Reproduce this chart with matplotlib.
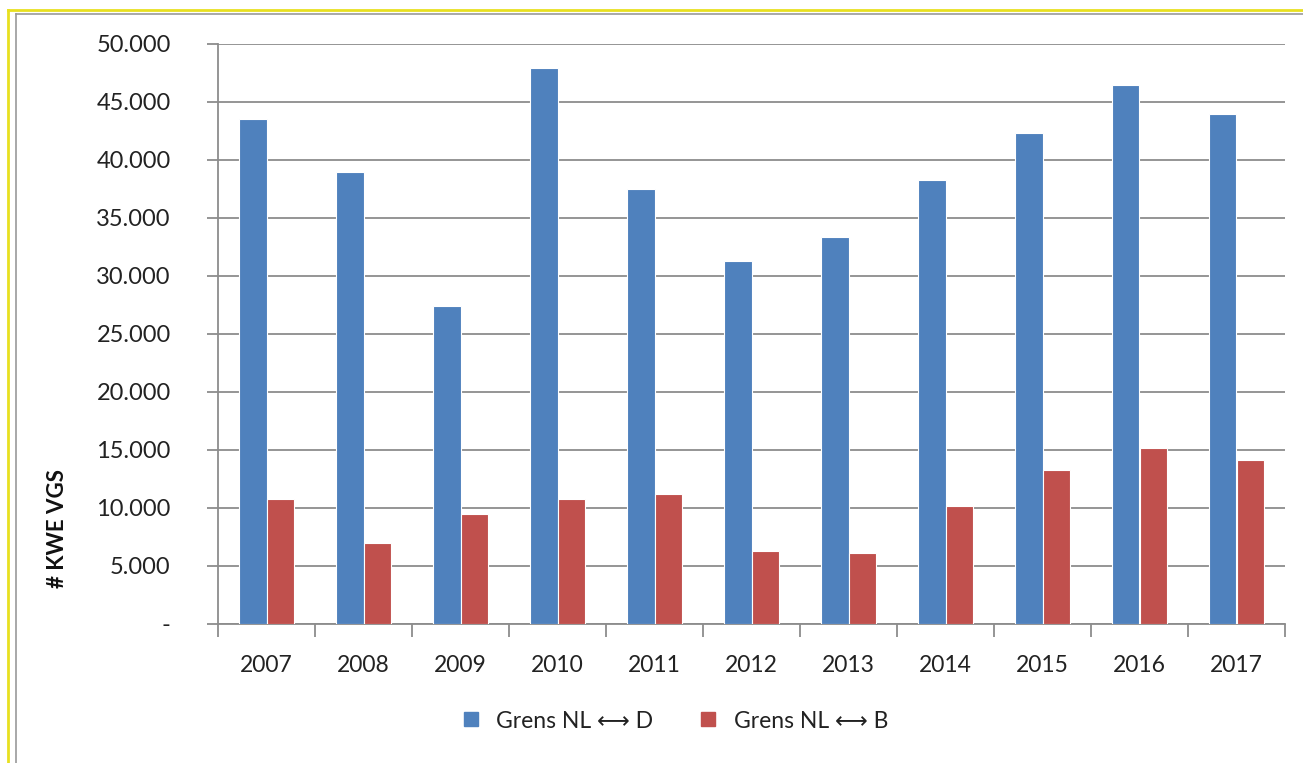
import matplotlib
matplotlib.use("Agg")
import matplotlib.pyplot as plt
import numpy as np
from matplotlib.lines import Line2D
from matplotlib.ticker import FuncFormatter

years = ["2007", "2008", "2009", "2010", "2011", "2012", "2013", "2014", "2015", "2016", "2017"]
grens_d = [43500, 39000, 27400, 47900, 37500, 31300, 33400, 38300, 42300, 46500, 44000]
grens_b = [10800, 7000, 9500, 10800, 11200, 6300, 6100, 10200, 13300, 15200, 14100]
series_names = ["Grens NL \u27f7 D", "Grens NL \u27f7 B"]
y_ticks = list(range(0, 50001, 5000))

BLUE = "#4F81BD"
RED = "#C0504D"
GRID = "#8c8c8c"
plt.rcParams["font.family"] = ["Lato", "DejaVu Sans"]

fig = plt.figure(figsize=(13.03, 7.63), dpi=100)
ax = fig.add_axes([218 / 1303, 1 - 624 / 763, (1285 - 218) / 1303, (624 - 44) / 763])

x = np.arange(len(years))
w = 0.28
ax.bar(x - w / 2, grens_d, width=w, color=BLUE, edgecolor="white", linewidth=0.8,
       label=series_names[0], zorder=3)
ax.bar(x + w / 2, grens_b, width=w, color=RED, edgecolor="white", linewidth=0.8,
       label=series_names[1], zorder=3)

ax.set_xlim(-0.5, len(years) - 0.5)
ax.set_ylim(0, 50000)
ax.set_yticks(y_ticks)
ax.yaxis.set_major_formatter(FuncFormatter(
    lambda v, p: "-" if v == 0 else f"{int(v):,}".replace(",", ".")))
ax.grid(axis="y", color=GRID, lw=1.3, zorder=0)

ax.set_xticks(x)
ax.set_xticklabels(years)
ax.set_xticks(np.arange(-0.5, len(years) + 0.5, 1), minor=True)
ax.tick_params(axis="x", which="major", length=0, pad=22, labelsize=16.5, colors="#222222")
ax.tick_params(axis="x", which="minor", length=9, width=1.3, color=GRID, direction="out")
ax.tick_params(axis="y", length=8, width=1.3, color=GRID, pad=26, labelsize=17,
               labelcolor="#222222")

for s in ["top", "right"]:
    ax.spines[s].set_visible(False)
for s in ["left", "bottom"]:
    ax.spines[s].set_color(GRID)
    ax.spines[s].set_linewidth(1.3)

fig.text(58 / 1303, 1 - 528 / 763, "# KWE VGS", rotation=90, fontsize=16,
         fontweight="bold", ha="center", va="center", color="#111111")

handles = [Line2D([], [], marker="s", ls="", color=BLUE, markersize=10),
           Line2D([], [], marker="s", ls="", color=RED, markersize=10)]
fig.legend(handles, series_names, loc="center", bbox_to_anchor=(668 / 1303, 1 - 721 / 763),
           ncol=2, frameon=False, fontsize=16.5, handletextpad=0.1, columnspacing=1.4,
           labelcolor="#222222")

# spreadsheet frame around the chart
fig.add_artist(Line2D([8 / 1303, 1], [1 - 10 / 763, 1 - 10 / 763], color="#e8e020", lw=2))
fig.add_artist(Line2D([8 / 1303, 8 / 1303], [0, 1 - 10 / 763], color="#e8e020", lw=2))
fig.add_artist(Line2D([16 / 1303, 1], [1 - 14 / 763, 1 - 14 / 763], color="#9a9a9a", lw=1.2))
fig.add_artist(Line2D([16 / 1303, 16 / 1303], [0, 1 - 14 / 763], color="#9a9a9a", lw=1.2))

fig.savefig("out.png", dpi=100)
